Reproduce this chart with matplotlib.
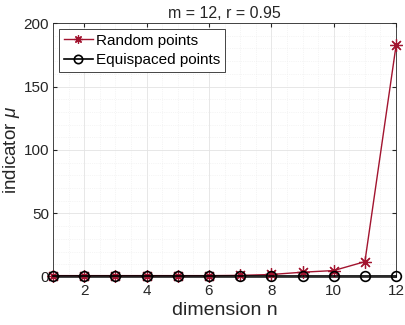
import matplotlib
matplotlib.use("Agg")
import matplotlib.pyplot as plt
from matplotlib.ticker import MultipleLocator

plt.rcParams['font.family'] = ['Liberation Sans', 'DejaVu Sans']
plt.rcParams['mathtext.fontset'] = 'custom'
plt.rcParams['mathtext.it'] = 'Liberation Sans:italic'

n = [1, 2, 3, 4, 5, 6, 7, 8, 9, 10, 11, 12]
random_pts = [1.0, 1.0, 1.0, 1.0, 1.0, 1.0, 1.2, 1.9, 3.7, 5.0, 12.0, 182.5]
equi_pts = [0.8, 0.8, 0.8, 0.8, 0.8, 0.8, 0.8, 0.8, 0.8, 0.8, 0.8, 0.8]

red = '#A2142F'
fig = plt.figure(figsize=(4.05, 3.25), dpi=100)
ax = fig.add_axes([0.131, 0.148, 0.847, 0.781])

ax.plot(n, random_pts, color=red, marker=(8, 2, 0), markersize=9, mew=0.9, lw=1.0,
        label='Random points', clip_on=False, zorder=3)
ax.plot(n, equi_pts, color='black', marker='o', markersize=7, mfc='none', mew=1.2,
        lw=1.2, label='Equispaced points', clip_on=False, zorder=4)

ax.set_xlim(1, 12)
ax.set_ylim(0, 200)
ax.set_xticks([2, 4, 6, 8, 10, 12])
ax.set_yticks([0, 50, 100, 150, 200])
ax.xaxis.set_minor_locator(MultipleLocator(0.5))
ax.yaxis.set_minor_locator(MultipleLocator(10))
ax.grid(True, which='major', color='#e3e3e3', lw=0.6)
ax.grid(True, which='minor', color='#ececec', lw=0.5, ls=':')
ax.set_axisbelow(True)
ax.tick_params(which='both', direction='in', labelsize=11, colors='#262626', length=3)
ax.tick_params(axis='x', pad=5)
ax.tick_params(axis='y', pad=3)
ax.tick_params(which='minor', length=0)
ax.tick_params(top=True, right=True)
for s in ax.spines.values():
    s.set_color('#262626')
    s.set_linewidth(0.6)

ax.set_title('m = 12, r = 0.95', fontsize=11.5, color='#262626', pad=4)
ax.set_xlabel('dimension n', fontsize=14, color='#262626', labelpad=3)
ax.set_ylabel(r'indicator $\mu$', fontsize=13.5, color='#262626', labelpad=1)

leg = ax.legend(loc='upper left', fontsize=11, fancybox=False, framealpha=1,
                edgecolor='#262626', borderpad=0.3, labelspacing=0.35,
                handlelength=1.9, handletextpad=0.2, borderaxespad=0.4)
leg.get_frame().set_linewidth(0.6)
for h in leg.legend_handles:
    h.set_markersize(6)

fig.savefig('out.png', dpi=100)
